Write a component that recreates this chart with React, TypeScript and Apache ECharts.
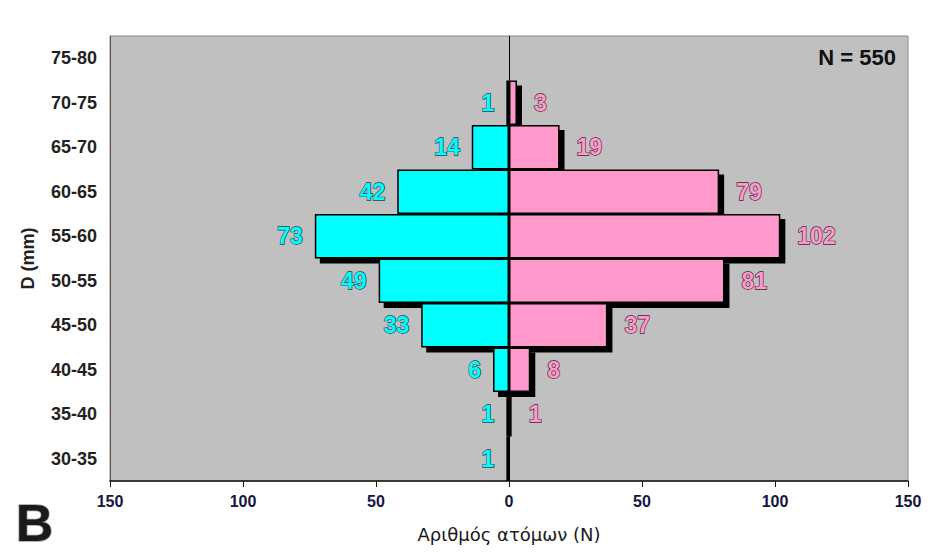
import React, { useEffect, useRef } from "react";
import * as echarts from "echarts";

const categories = ["75-80", "70-75", "65-70", "60-65", "55-60", "50-55", "45-50", "40-45", "35-40", "30-35"];
const cyanValues = [0, 1, 14, 42, 73, 49, 33, 6, 1, 1];
const pinkValues = [0, 3, 19, 79, 102, 81, 37, 8, 1, 0];
const xTicks = { min: -150, max: 150, interval: 50 };
const totalLabel = "N = 550";
const panelLabel = "B";
const xTitle = "Αριθμός ατόμων (N)";
const yTitle = "D (mm)";

const FONT = "Arial, 'Liberation Sans', sans-serif";

export default function App() {
  const ref = useRef<HTMLDivElement>(null);
  useEffect(() => {
    if (!ref.current) return;
    const chart = echarts.init(ref.current, undefined, { renderer: "svg" });
    const shadow = {
      shadowColor: "#000",
      shadowBlur: 0,
      shadowOffsetX: 5,
      shadowOffsetY: 5,
    };
    const labelBase = {
      show: true,
      fontFamily: FONT,
      fontSize: 23,
      fontWeight: "bold" as const,
      textBorderWidth: 1.3,
    };
    chart.setOption({
      animation: false,
      backgroundColor: "#ffffff",
      grid: {
        left: 110,
        right: 26,
        top: 36,
        bottom: 79,
        show: true,
        backgroundColor: "#c0c0c0",
        borderColor: "#8a8a8a",
        borderWidth: 1,
      },
      xAxis: {
        type: "value",
        min: xTicks.min,
        max: xTicks.max,
        interval: xTicks.interval,
        splitLine: { show: false },
        axisLine: { show: true, lineStyle: { color: "#111", width: 1.5 } },
        axisTick: { show: true, length: 6, lineStyle: { color: "#111" } },
        axisLabel: {
          formatter: (v: number) => String(Math.abs(v)),
          fontFamily: FONT,
          fontSize: 16,
          fontWeight: "bold",
          color: "#15153f",
          margin: 12,
        },
        name: xTitle,
        nameLocation: "middle",
        nameGap: 44,
        nameTextStyle: { fontFamily: "'DejaVu Sans', sans-serif", fontSize: 18, color: "#1a1a1a" },
      },
      yAxis: {
        type: "category",
        data: categories,
        inverse: true,
        axisLine: { show: true, onZero: false, lineStyle: { color: "#555", width: 1 } },
        axisTick: { show: false },
        axisLabel: {
          fontFamily: FONT,
          fontSize: 18,
          fontWeight: "bold",
          color: "#222",
          margin: 13,
        },
        name: yTitle,
        nameLocation: "middle",
        nameGap: 73,
        nameRotate: 90,
        nameTextStyle: { fontFamily: FONT, fontSize: 18, fontWeight: "bold", color: "#222" },
      },
      series: [
        {
          type: "bar",
          stack: "pyr",
          barCategoryGap: 0,
          data: cyanValues.map((v) => (v === 0 ? "-" : -v)),
          itemStyle: { color: "#00ffff", borderColor: "#000", borderWidth: 1.5, ...shadow },
          label: {
            ...labelBase,
            position: "left",
            distance: 12,
            color: "#00ffff",
            textBorderColor: "#1d4048",
            formatter: (p: any) => String(Math.abs(p.value)),
          },
        },
        {
          type: "bar",
          stack: "pyr",
          barCategoryGap: 0,
          data: pinkValues.map((v) => (v === 0 ? "-" : v)),
          itemStyle: { color: "#ff99cc", borderColor: "#000", borderWidth: 1.5, ...shadow },
          label: {
            ...labelBase,
            position: "right",
            distance: 17,
            color: "#ff99cc",
            textBorderColor: "#4a2038",
            formatter: (p: any) => String(p.value),
          },
          markLine: {
            silent: true,
            symbol: "none",
            label: { show: false },
            lineStyle: { color: "#000", width: 1, type: "solid" },
            data: [{ xAxis: 0 }],
          },
        },
      ],
      graphic: [
        {
          type: "text",
          right: 38,
          top: 46,
          style: {
            text: totalLabel,
            fontFamily: FONT,
            fontSize: 22,
            fontWeight: "bold",
            fill: "#111",
          },
        },
        {
          type: "text",
          left: 15,
          top: 496,
          style: {
            text: panelLabel,
            fontFamily: FONT,
            fontSize: 52,
            fontWeight: "bold",
            fill: "#1a1a1a",
            stroke: "#a0a0a0",
            lineWidth: 1.5,
            shadowColor: "rgba(0,0,0,0.5)",
            shadowBlur: 3,
            shadowOffsetX: 2,
            shadowOffsetY: 2,
          },
        },
      ],
    });
    return () => chart.dispose();
  }, []);
  return <div ref={ref} style={{ width: 934, height: 560, margin: -8 }} />;
}
